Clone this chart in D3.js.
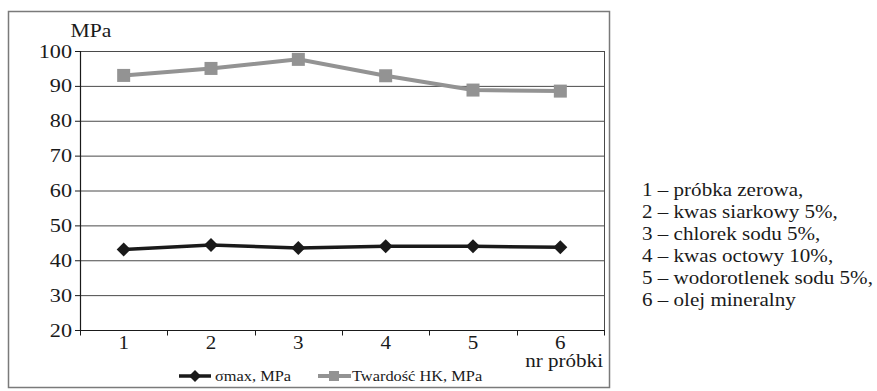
<!DOCTYPE html>
<html><head><meta charset="utf-8">
<script src="https://cdn.jsdelivr.net/npm/d3@7"></script>
</head>
<body style="margin:0">
<svg id="s" width="877" height="391"></svg>
<script>
const categories = ["1","2","3","4","5","6"];
const sigmaMax = [43.1, 44.4, 43.5, 44.0, 44.0, 43.7];
const hardnessHK = [93.0, 95.0, 97.6, 92.9, 88.8, 88.5];
const yTicks = [20,30,40,50,60,70,80,90,100];
const seriesNames = ["σmax, MPa", "Twardość HK, MPa"];
const notes = ["1 – próbka zerowa,","2 – kwas siarkowy 5%,","3 – chlorek sodu 5%,","4 – kwas octowy 10%,","5 – wodorotlenek sodu 5%,","6 – olej mineralny"];

const SX = 1.17;
const svg = d3.select("#s");
const L = 80, R = 604, T = 51, B = 330;

function txt(x, y, s, size, anchor){
  return svg.append("text")
    .attr("transform", `translate(${x},${y}) scale(${SX},1)`)
    .attr("font-size", size)
    .attr("font-family", "Liberation Serif, Tinos, serif")
    .style("font-family", "'Liberation Serif', Tinos, serif")
    .attr("fill", "#1a1a1a")
    .attr("text-anchor", anchor || "start")
    .text(s);
}

// outer frame
svg.append("rect").attr("x",8.5).attr("y",11.5).attr("width",601).attr("height",376)
  .attr("fill","none").attr("stroke","#7a7a7a").attr("stroke-width",1.5);

const x = d3.scaleBand().domain(categories).range([L,R]);
const y = d3.scaleLinear().domain([20,100]).range([B,T]);

// gridlines
svg.append("g").selectAll("line").data(yTicks.filter(d=>d>20)).join("line")
  .attr("x1",L).attr("x2",R).attr("y1",d=>y(d)+0.5).attr("y2",d=>y(d)+0.5)
  .attr("stroke","#4a4a4a").attr("stroke-width",1);
svg.append("line").attr("x1",R+0.5).attr("x2",R+0.5).attr("y1",T).attr("y2",B)
  .attr("stroke","#4a4a4a").attr("stroke-width",1);

// y axis line and ticks
svg.append("line").attr("x1",L+0.5).attr("x2",L+0.5).attr("y1",T).attr("y2",B+0.5)
  .attr("stroke","#1a1a1a").attr("stroke-width",1.2);
svg.append("g").selectAll("line").data(yTicks).join("line")
  .attr("x1",L-5).attr("x2",L).attr("y1",d=>y(d)+0.5).attr("y2",d=>y(d)+0.5)
  .attr("stroke","#1a1a1a").attr("stroke-width",1);

// x axis line and ticks at band boundaries
svg.append("line").attr("x1",L).attr("x2",R+0.5).attr("y1",B+0.5).attr("y2",B+0.5)
  .attr("stroke","#1a1a1a").attr("stroke-width",1.2);
const bounds = categories.map(c => x(c)).concat([x(categories[categories.length-1]) + x.bandwidth()]);
svg.append("g").selectAll("line").data(bounds).join("line")
  .attr("x1",d=>Math.round(d)+0.5).attr("x2",d=>Math.round(d)+0.5).attr("y1",B).attr("y2",B+5.5)
  .attr("stroke","#1a1a1a").attr("stroke-width",1);

const cx = c => x(c)+x.bandwidth()/2;
const line = d3.line().x((d,i)=>cx(categories[i])).y(d=>y(d));

// gray series
svg.append("path").datum(hardnessHK).attr("d",line).attr("fill","none")
  .attr("stroke","#939393").attr("stroke-width",4);
svg.append("g").selectAll("rect").data(hardnessHK).join("rect")
  .attr("x",(d,i)=>cx(categories[i])-6.5).attr("y",d=>y(d)-6.5)
  .attr("width",13).attr("height",13).attr("fill","#939393");

// black series
svg.append("path").datum(sigmaMax).attr("d",line).attr("fill","none")
  .attr("stroke","#1a1a1a").attr("stroke-width",3.5);
const diamond = (s) => `M0,${-s}L${s},0L0,${s}L${-s},0Z`;
svg.append("g").selectAll("path").data(sigmaMax).join("path")
  .attr("transform",(d,i)=>`translate(${cx(categories[i])},${y(d)})`)
  .attr("d",diamond(7)).attr("fill","#1a1a1a");

// legend marks
svg.append("line").attr("x1",179).attr("x2",211).attr("y1",376).attr("y2",376)
  .attr("stroke","#1a1a1a").attr("stroke-width",3.5);
svg.append("path").attr("transform","translate(195,376)").attr("d",diamond(6)).attr("fill","#1a1a1a");
svg.append("line").attr("x1",318).attr("x2",351).attr("y1",376).attr("y2",376)
  .attr("stroke","#939393").attr("stroke-width",4);
svg.append("rect").attr("x",329).attr("y",371).attr("width",10).attr("height",10).attr("fill","#939393");

// texts
yTicks.forEach(d => txt(72, y(d)+6.5, String(d), 19, "end"));
categories.forEach(c => txt(cx(c), 349, c, 18, "middle"));
txt(91, 37, "MPa", 18.5, "middle");
txt(603, 367, "nr próbki", 18, "end");
txt(215, 381, seriesNames[0], 14, "start");
txt(352, 381, seriesNames[1], 14, "start");
notes.forEach((s,i) => txt(642, 196 + 22*i, s, 18, "start"));
</script>
</body></html>
